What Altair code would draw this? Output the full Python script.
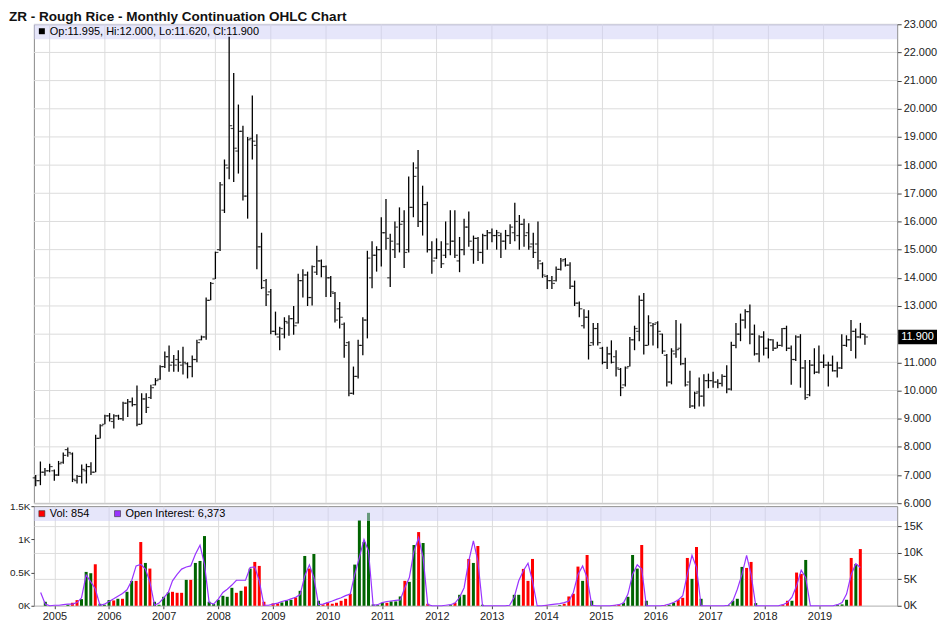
import altair as alt
import numpy as np
import pandas as pd

TITLE = "ZR - Rough Rice - Monthly Continuation OHLC Chart"
FIRST_MONTH = "2004-10-01"   # first monthly bar (Oct 2004) ... last bar Oct 2019

opens = [
    6.9, 6.8, 7.1,
    7.15, 7.15, 7.0, 7.45, 7.9, 7.75, 6.8, 6.95, 7.15, 7.3, 7.1, 8.3,
    8.8, 9.1, 8.9, 9.1, 9.0, 9.55, 9.6, 9.5, 8.8, 9.7, 9.75, 10.2,
    10.4, 10.85, 11.2, 11.0, 11.1, 10.9, 10.95, 10.85, 11.1, 11.8, 11.9, 13.2,
    13.96, 15.0, 16.4, 17.9, 19.3, 18.5, 19.2, 16.9, 18.95, 18.7, 15.1, 13.9,
    13.5, 12.1, 11.9, 12.0, 12.4, 12.55, 12.4, 13.9, 14.1, 13.3, 14.2, 14.6,
    14.4, 14.0, 13.45, 12.9, 12.35, 11.7, 9.9, 10.5, 11.6, 12.5, 14.0, 14.8,
    15.0, 15.6, 14.0, 15.0, 15.2, 16.0, 15.0, 16.5, 17.9, 16.0, 16.6, 15.0,
    14.7, 15.0, 14.8, 15.0, 15.3, 14.6, 15.0, 15.8, 15.0, 15.4, 14.9, 15.5,
    15.6, 15.5, 15.5, 15.3, 15.5, 15.6, 15.5, 15.9, 15.6, 15.2, 15.2, 14.5,
    14.05, 13.9, 13.9, 14.3, 14.65, 14.45, 13.7, 13.1, 12.3, 12.6, 11.7, 12.2,
    11.5, 11.0, 11.3, 11.2, 10.75, 10.2, 10.85, 11.8, 12.1, 13.2, 11.6, 12.3,
    12.4, 12.0, 11.25, 10.3, 11.3, 11.5, 10.95, 10.3, 9.45, 9.95, 9.8, 10.35,
    10.35, 10.3, 10.25, 10.5, 10.05, 11.6, 12.0, 12.5, 12.8, 12.0, 11.3, 11.9,
    11.5, 11.8, 11.5, 11.6, 12.2, 11.5, 11.1, 11.9, 10.8, 9.85, 10.9, 10.65,
    11.0, 10.9, 10.9, 10.7, 10.8, 11.6, 11.8, 12.1, 11.9, 11.995,
]
highs = [
    7.0, 7.48, 7.25,
    7.4, 7.2, 7.5, 7.8, 7.98, 7.8, 7.0, 7.37, 7.4, 7.45, 8.43, 8.8,
    9.14, 9.2, 9.16, 9.14, 9.6, 9.7, 9.75, 10.18, 9.9, 9.9, 10.2, 10.44,
    10.9, 11.38, 11.6, 11.26, 11.43, 11.55, 11.0, 11.24, 11.8, 11.95, 13.3, 13.85,
    14.93, 17.4, 18.2, 22.56, 21.27, 20.15, 19.4, 19.0, 20.47, 19.1, 15.6, 13.96,
    13.6, 12.8, 12.26, 12.6, 12.67, 13.0, 14.14, 14.3, 14.22, 14.44, 15.14, 14.65,
    14.44, 14.06, 13.5, 13.14, 12.41, 11.75, 10.85, 11.8, 12.6, 14.96, 15.3, 15.12,
    16.15, 16.8, 15.56, 16.0, 16.5, 16.4, 17.6, 18.1, 18.54, 17.27, 16.7, 15.3,
    15.4, 15.3, 16.0, 16.4, 16.4, 15.45, 16.1, 16.35, 15.5, 15.45, 15.56, 15.7,
    15.75, 15.7, 15.6, 15.7, 15.9, 16.66, 16.23, 16.1, 15.94, 15.6, 16.0, 14.55,
    14.1, 14.06, 14.4, 14.7, 14.7, 14.55, 13.9, 13.16, 12.88, 12.85, 12.4, 12.4,
    11.55, 11.55, 11.78, 11.43, 10.8, 10.85, 11.9, 12.3, 13.37, 13.46, 12.67, 12.4,
    12.46, 12.02, 11.3, 11.5, 12.5, 12.38, 11.16, 10.7, 9.96, 10.46, 10.58, 10.6,
    10.67, 10.4, 10.58, 10.9, 11.73, 12.4, 12.73, 12.88, 13.05, 12.34, 11.96, 12.1,
    11.85, 11.82, 11.73, 12.22, 12.3, 11.6, 11.96, 12.0, 11.08, 11.08, 11.5, 11.6,
    11.28, 11.02, 11.24, 11.02, 12.0, 11.96, 12.5, 12.2, 12.4, 12.0,
]
lows = [
    6.6, 6.64, 6.97,
    7.1, 6.8, 6.97, 7.4, 7.65, 6.75, 6.7, 6.7, 6.7, 7.0, 7.1, 8.3,
    8.8, 8.9, 8.65, 8.96, 8.93, 9.06, 9.43, 8.73, 8.8, 9.2, 9.7, 10.18,
    10.38, 10.8, 10.67, 10.67, 10.67, 10.57, 10.43, 10.47, 11.0, 11.78, 11.8, 13.2,
    13.96, 14.95, 16.3, 17.5, 17.4, 17.7, 16.74, 16.1, 18.2, 14.3, 13.6, 13.0,
    12.0, 11.96, 11.43, 11.85, 11.94, 11.98, 12.38, 13.3, 13.0, 13.02, 14.1, 14.02,
    13.32, 13.32, 12.41, 12.2, 11.16, 9.8, 9.85, 10.43, 11.25, 11.85, 13.63, 14.22,
    14.4, 15.0, 13.67, 14.7, 14.9, 14.35, 14.9, 16.15, 15.8, 15.5, 14.9, 14.14,
    14.67, 14.35, 14.7, 14.8, 14.7, 14.2, 14.8, 15.1, 14.5, 14.6, 14.5, 15.0,
    15.26, 15.0, 14.7, 15.0, 15.2, 15.3, 15.0, 15.1, 15.0, 14.7, 14.3, 14.0,
    13.6, 13.6, 13.87, 14.26, 14.4, 13.6, 13.0, 12.6, 12.2, 11.1, 11.6, 11.6,
    10.93, 10.76, 10.96, 10.5, 9.8, 10.14, 10.85, 11.43, 11.75, 11.28, 11.6, 11.6,
    11.5, 11.3, 10.14, 10.22, 11.16, 10.9, 10.14, 9.38, 9.35, 9.43, 9.43, 10.08,
    10.1, 10.08, 10.14, 9.9, 10.0, 11.5, 11.75, 12.2, 11.64, 11.24, 11.0, 11.24,
    11.14, 11.4, 11.5, 11.55, 11.4, 10.2, 11.05, 10.1, 9.67, 9.8, 10.58, 10.6,
    10.8, 10.14, 10.67, 10.46, 10.76, 11.55, 11.4, 11.14, 11.85, 11.62,
]
closes = [
    6.8, 7.1, 7.15,
    7.3, 7.0, 7.4, 7.7, 7.8, 6.85, 6.95, 7.2, 7.3, 7.1, 8.3, 8.75,
    9.1, 9.0, 9.1, 9.0, 9.55, 9.6, 9.5, 8.8, 9.7, 9.4, 10.1, 10.35,
    10.85, 11.2, 10.9, 10.9, 11.0, 11.0, 10.85, 11.1, 11.7, 11.9, 13.2, 13.8,
    14.9, 17.3, 18.0, 19.4, 18.6, 19.2, 16.9, 18.9, 18.85, 15.1, 13.65, 13.4,
    12.1, 12.0, 12.2, 12.45, 12.55, 12.3, 13.9, 14.1, 13.3, 14.4, 14.6, 14.4,
    14.0, 13.5, 12.5, 12.6, 11.6, 9.9, 10.5, 11.6, 12.5, 14.7, 14.8, 15.0,
    15.6, 15.4, 15.3, 15.8, 15.9, 14.9, 16.5, 17.6, 16.0, 16.6, 15.0, 14.6,
    15.0, 14.5, 15.2, 15.3, 14.8, 15.0, 15.8, 15.3, 15.4, 14.9, 15.5, 15.6,
    15.5, 15.6, 15.3, 15.5, 15.8, 16.0, 15.9, 15.5, 15.1, 14.9, 14.6, 14.1,
    13.9, 13.8, 14.3, 14.6, 14.45, 13.7, 13.1, 12.9, 12.6, 11.6, 12.2, 11.7,
    11.0, 11.3, 11.0, 10.8, 10.1, 10.8, 11.8, 12.2, 13.2, 11.6, 12.4, 12.35,
    12.1, 11.4, 10.3, 11.4, 11.45, 10.95, 10.2, 9.45, 9.9, 9.8, 10.35, 10.35,
    10.3, 10.25, 10.5, 10.05, 11.6, 12.0, 12.5, 12.8, 12.0, 11.3, 11.9, 11.5,
    11.8, 11.5, 11.6, 12.2, 11.5, 11.1, 11.9, 10.8, 9.75, 10.9, 10.65, 11.0,
    10.9, 10.9, 10.7, 10.8, 11.6, 11.8, 12.1, 11.9, 12.0, 11.9,
]
volume_k = [
    0, 0.06, 0,
    0, 0, 0, 0.015, 0.045, 0.085, 0.10, 0.51, 0.49, 0.625, 0.03, 0.015,
    0.085, 0.08, 0.105, 0.105, 0.21, 0.375, 0.375, 0.96, 0.645, 0.56, 0.06, 0.015,
    0.135, 0.20, 0.21, 0.195, 0.195, 0.39, 0.39, 0.645, 0.675, 1.05, 0.06, 0.025,
    0.09, 0.15, 0.135, 0.27, 0.195, 0.225, 0.29, 0.56, 0.66, 0.60, 0.06, 0,
    0.035, 0.035, 0.05, 0.08, 0.09, 0.125, 0.225, 0.75, 0.56, 0.78, 0.075, 0.02,
    0.05, 0.03, 0.045, 0.075, 0.105, 0.18, 0.62, 1.29, 0.96, 1.40, 0.02, 0.01,
    0.045, 0.045, 0.065, 0.065, 0.14, 0.375, 0.36, 0.915, 1.11, 0.945, 0.03, 0,
    0, 0, 0, 0.01, 0.045, 0.165, 0.165, 0.705, 0.645, 0.90, 0.015, 0,
    0, 0, 0, 0, 0, 0.165, 0.165, 0.555, 0.375, 0.705, 0, 0,
    0.01, 0, 0, 0.01, 0.03, 0.14, 0.18, 0.59, 0.375, 0.765, 0.075, 0,
    0, 0, 0, 0.01, 0.015, 0.045, 0.135, 0.765, 0.56, 0.915, 0.075, 0,
    0, 0, 0.01, 0.015, 0.045, 0.09, 0.12, 0.72, 0.405, 0.885, 0.105, 0,
    0, 0, 0, 0, 0.01, 0.075, 0.105, 0.585, 0.57, 0.66, 0.04, 0,
    0, 0, 0, 0, 0.015, 0.075, 0.075, 0.50, 0.48, 0.69, 0, 0,
    0, 0, 0, 0, 0.015, 0.02, 0.09, 0.72, 0.63, 0.854,
]
open_interest_k = [
    2.5, 0.3, 0,
    0.1, 0.1, 0.2, 0.3, 0.3, 0.6, 1.5, 5.8, 4.5, 3.2, 0.1, 0.3,
    0.8, 1.3, 1.8, 2.3, 3.0, 4.7, 7.5, 7.8, 6.9, 4.5, 0.1, 0.5,
    1.5, 2.5, 4.7, 5.9, 6.9, 7.3, 7.5, 9.7, 11.4, 7.8, 0.6, 0.3,
    1.25, 2.5, 3.1, 3.9, 4.8, 4.8, 4.8, 7.2, 7.3, 4.7, 0.1, 0.1,
    0.3, 0.5, 0.8, 1.0, 1.3, 1.6, 2.1, 5.6, 7.7, 5.3, 0.2, 0.3,
    0.6, 0.9, 1.2, 1.5, 1.9, 2.2, 5.9, 9.1, 12.5, 10.3, 0.1, 0.2,
    0.6, 0.8, 0.9, 1.0, 1.1, 3.4, 5.3, 10.3, 12.8, 9.1, 0.2, 0,
    0, 0, 0.1, 0.2, 0.5, 1.6, 3.4, 8.4, 12.2, 8.4, 0, 0,
    0, 0, 0, 0, 0.1, 1.6, 4.7, 6.6, 8.0, 4.7, 0, 0,
    0.1, 0.2, 0.3, 0.4, 0.6, 0.9, 2.5, 5.9, 7.5, 5.3, 0.1, 0,
    0, 0, 0, 0.1, 0.2, 0.5, 2.2, 5.9, 7.7, 6.9, 0, 0,
    0, 0, 0.1, 0.3, 0.6, 1.1, 1.9, 5.9, 9.5, 7.2, 0, 0,
    0, 0, 0, 0, 0.1, 0.9, 3.1, 5.9, 9.5, 5.9, 0, 0,
    0, 0, 0, 0, 0.2, 0.6, 1.6, 3.75, 6.7, 5.3, 0, 0,
    0, 0, 0, 0, 0.2, 0.6, 2.2, 5.9, 7.9, 7.2,
]
OI_LEGEND = "6,373"
price_ticks = [6, 7, 8, 9, 10, 11, 12, 13, 14, 15, 16, 17, 18, 19, 20, 21, 22, 23]
vol_ticks = [0, 0.5, 1, 1.5]
oi_ticks = [0, 5, 10, 15]
year_labels = [2005, 2006, 2007, 2008, 2009, 2010, 2011, 2012, 2013, 2014,
               2015, 2016, 2017, 2018, 2019]

FONT = "Liberation Sans"
GREEN = "#006400"
RED = "#FF0000"
PURPLE = "#9933FF"
GRID = "#DCDCDC"
W = 867
PH = 481
VH = 100

dates = pd.date_range(FIRST_MONTH, periods=len(closes), freq="MS")
df = pd.DataFrame({
    "date": dates, "open": opens, "high": highs, "low": lows, "close": closes,
    "vol": volume_k, "oi": open_interest_k,
})
df["dir"] = np.where(df["close"] >= df["open"], "up", "down")
years_df = pd.DataFrame({"d": pd.to_datetime([f"{y}-01-01" for y in year_labels])})
pgrid_df = pd.DataFrame({"v": price_ticks})

one = pd.DataFrame({"k": [0]})
xs = alt.Scale(domain=[alt.DateTime(year=2004, month=9, date=19),
                       alt.DateTime(year=2020, month=5, date=1)])

def xp(field="date"):
    return alt.X(f"{field}:T", scale=xs, axis=None)

last_close = closes[-1]
price_scale = alt.Scale(domain=[6, 23], nice=False, zero=False)
price_axis = alt.Axis(orient="right",
                      values=[v for v in price_ticks if abs(v - last_close) > 0.5],
                      format=".3f", title=None, grid=False, tickSize=4,
                      labelPadding=2, domain=False)

def yp(field):
    return alt.Y(f"{field}:Q", scale=price_scale, axis=price_axis)

base = alt.Chart(df)
hgrid = alt.Chart(pgrid_df).mark_rule(color=GRID, strokeWidth=1).encode(y=yp("v"))
vgrid = alt.Chart(years_df).mark_rule(color=GRID, strokeWidth=1).encode(x=xp("d"))
band_p = alt.Chart(one).mark_rect(color="#CDCDF5", opacity=0.5).encode(
    x=alt.value(0), x2=alt.value(W), y=alt.value(0), y2=alt.value(15))
rules = base.mark_rule(color="black", strokeWidth=1.3).encode(
    x=xp(), y=yp("low"), y2="high")
open_t = base.mark_tick(orient="horizontal", size=2.5, thickness=1.2, xOffset=-1.8,
                        color="black").encode(x=xp(), y=yp("open"))
close_t = base.mark_tick(orient="horizontal", size=2.5, thickness=1.2, xOffset=1.8,
                         color="black").encode(x=xp(), y=yp("close"))
leg_p = pd.DataFrame({"t": [f"Op:{opens[-1]:.3f}, Hi:{highs[-1]:.3f}, "
                            f"Lo:{lows[-1]:.3f}, Cl:{closes[-1]:.3f}"]})
sq_p = alt.Chart(one).mark_rect(color="black").encode(
    x=alt.value(5), x2=alt.value(11), y=alt.value(4), y2=alt.value(10))
txt_p = alt.Chart(leg_p).mark_text(align="left", baseline="middle", fontSize=11,
                                   font=FONT, color="black").encode(
    x=alt.value(16), y=alt.value(7.5), text="t:N")
last = pd.DataFrame({"p": [last_close], "lo": [last_close - 0.26],
                     "hi": [last_close + 0.26], "t": [f"{last_close:.3f}"]})
box = alt.Chart(last).mark_rect(color="black").encode(
    x=alt.value(W + 1), x2=alt.value(W + 40), y=yp("lo"), y2="hi")
box_t = alt.Chart(last).mark_text(color="white", fontSize=11, font=FONT,
                                  align="center", baseline="middle").encode(
    x=alt.value(W + 20.5), y=yp("p"), text="t:N")

price = alt.layer(hgrid, vgrid, band_p, rules, open_t, close_t, sq_p, txt_p,
                  box, box_t).properties(width=W, height=PH)

xv = alt.X("date:T", scale=xs, axis=alt.Axis(
    title=None, format="%Y",
    values=[alt.DateTime(year=y, month=1, date=1) for y in year_labels],
    grid=True, tickSize=3, labelPadding=2, domain=False, labelFontSize=11))
bars = base.mark_bar(width=3).encode(
    x=xv,
    y=alt.Y("vol:Q", scale=alt.Scale(domain=[0, 1.5], nice=False),
            axis=alt.Axis(orient="left", values=vol_ticks,
                          labelExpr="datum.value == 0 ? '0K' : datum.value + 'K'",
                          grid=False, title=None, tickSize=3, labelPadding=1,
                          labelFontSize=10, domain=False)),
    color=alt.Color("dir:N", scale=alt.Scale(domain=["up", "down"], range=[GREEN, RED]),
                    legend=None))
oi_line = base.mark_line(color=PURPLE, strokeWidth=1.2).encode(
    x=xv,
    y=alt.Y("oi:Q", scale=alt.Scale(domain=[0, 18.75], nice=False),
            axis=alt.Axis(orient="right", values=oi_ticks,
                          labelExpr="datum.value + 'K'", grid=True, title=None,
                          tickSize=4, labelPadding=2, domain=False)))
band_v = alt.Chart(one).mark_rect(color="#CDCDF5", opacity=0.5).encode(
    x=alt.value(0), x2=alt.value(W), y=alt.value(1), y2=alt.value(15))
sq_v = alt.Chart(one).mark_rect(color=RED, stroke="#333", strokeWidth=0.6).encode(
    x=alt.value(5), x2=alt.value(11), y=alt.value(4.5), y2=alt.value(10.5))
txt_v = alt.Chart(pd.DataFrame({"t": [f"Vol: {round(volume_k[-1] * 1000)}"]})).mark_text(
    align="left", baseline="middle", fontSize=11, font=FONT, color="black").encode(
    x=alt.value(16), y=alt.value(8), text="t:N")
sq_o = alt.Chart(one).mark_rect(color=PURPLE, stroke="#333", strokeWidth=0.6).encode(
    x=alt.value(81), x2=alt.value(87), y=alt.value(4.5), y2=alt.value(10.5))
txt_o = alt.Chart(pd.DataFrame({"t": [f"Open Interest: {OI_LEGEND}"]})).mark_text(
    align="left", baseline="middle", fontSize=11, font=FONT, color="black").encode(
    x=alt.value(92), y=alt.value(8), text="t:N")

vol = alt.layer(bars, oi_line, band_v, sq_v, txt_v, sq_o, txt_o).resolve_scale(
    y="independent").properties(width=W, height=VH)

chart = alt.vconcat(price, vol, spacing=3, bounds="flush").properties(
    title=alt.TitleParams(TITLE, anchor="start", fontSize=13.6, fontWeight="bold",
                          offset=-6, font=FONT, color="#111"),
    padding={"left": 0, "top": 0, "right": 0, "bottom": 0},
).configure_view(stroke="#888", strokeWidth=1).configure_axis(
    labelFont=FONT, labelFontSize=11, labelColor="#222", gridColor=GRID,
    tickColor="#444")

chart.save("out.html", embed_options={"renderer": "svg", "actions": False})
